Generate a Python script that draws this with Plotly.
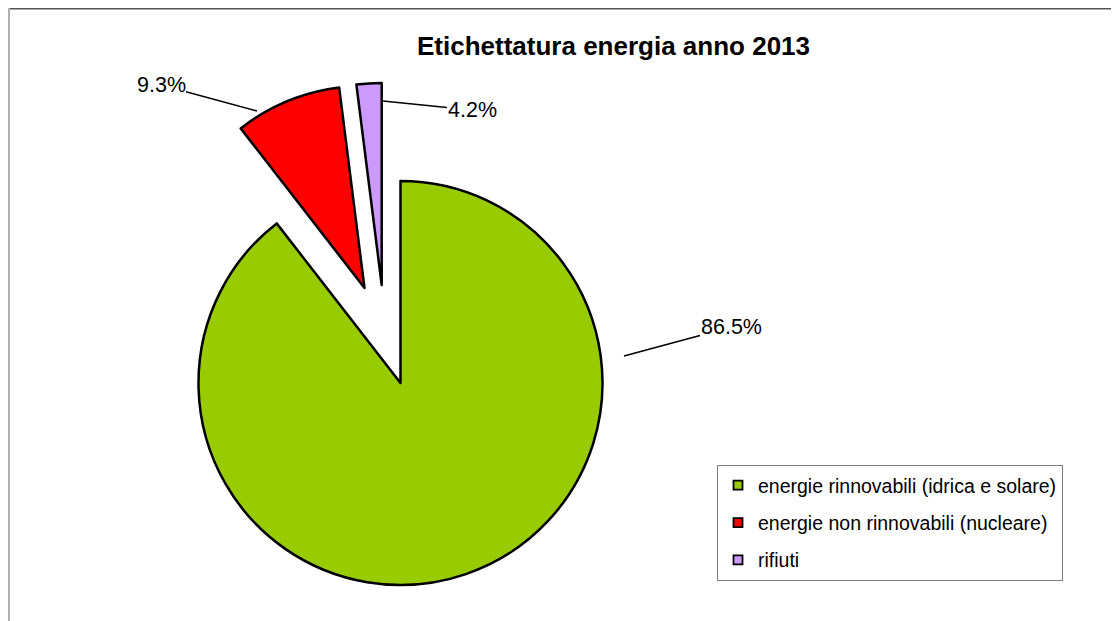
import plotly.graph_objects as go

# ---- data ----
categories = [
    "energie rinnovabili (idrica e solare)",
    "energie non rinnovabili (nucleare)",
    "rifiuti",
]
# slice sizes as drawn
values = [89.5, 8.5, 2.0]
# percentage labels as printed on the chart
pct_labels = ["86.5%", "9.3%", "4.2%"]
colors = ["#99CC00", "#FF0000", "#CC99FF"]

OFF = 8  # page body margin that shifts the figure
W, H = 1119 - OFF, 621 - OFF
R = 202
FONT = "Arial, Liberation Sans, sans-serif"

# pie centre (page px) and the explode offset of each slice (px)
base_center = (400.5, 383.0)
explode = [(0.0, 0.0), (-36.0, -95.0), (-18.8, -98.0)]


def domain_for(cx, cy, r):
    cx -= OFF
    cy -= OFF
    return dict(x=[(cx - r) / W, (cx + r) / W],
                y=[1 - (cy + r) / H, 1 - (cy - r) / H])


def px(x, y):
    return (x - OFF) / W, 1 - (y - OFF) / H


fig = go.Figure()

for i, (dx, dy) in enumerate(explode):
    cols = [c if j == i else "rgba(0,0,0,0)" for j, c in enumerate(colors)]
    lw = [2.5 if j == i else 0 for j in range(len(colors))]
    fig.add_trace(go.Pie(
        labels=categories, values=values, sort=False, direction="clockwise",
        rotation=0, textinfo="none", hoverinfo="skip", showlegend=False,
        marker=dict(colors=cols, line=dict(color="black", width=lw)),
        domain=domain_for(base_center[0] + dx, base_center[1] + dy, R),
    ))

# legend entries
for i, (cat, col) in enumerate(zip(categories, colors)):
    fig.add_trace(go.Scatter(
        x=[None], y=[None], mode="markers", name=cat, legendgroup=str(i),
        marker=dict(symbol="square", size=9, color=col,
                    line=dict(color="black", width=1.8)),
    ))

# data labels with leader lines (tip page px, text offset px)
label_pos = [((624, 356), (107, -29)), ((257, 111), (-96, -26)), ((383, 101), (89, 9))]
annotations = []
for txt, ((tx, ty), (ax, ay)) in zip(pct_labels, label_pos):
    x, y = px(tx, ty)
    annotations.append(dict(
        x=x, y=y, xref="paper", yref="paper", text=txt, showarrow=True,
        arrowhead=0, arrowwidth=1.5, arrowcolor="black", ax=ax, ay=ay,
        font=dict(family=FONT, size=21.5, color="black"), borderpad=0,
    ))

shapes = [
    dict(type="line", xref="paper", yref="paper", x0=0, x1=1,
         y0=1 - 0.75 / H, y1=1 - 0.75 / H, line=dict(color="#555555", width=1.5)),
    dict(type="line", xref="paper", yref="paper", x0=1 / W, x1=1 / W,
         y0=1, y1=0, line=dict(color="#b0b0b0", width=2)),
]

lx, ly = px(717, 465)
tx_, ty_ = px(613.5, 46)
fig.update_layout(
    width=W, height=H, margin=dict(l=0, r=0, t=0, b=0),
    paper_bgcolor="white", plot_bgcolor="white",
    title=dict(text="<b>Etichettatura energia anno 2013</b>", x=tx_,
               xanchor="center", y=ty_, yanchor="middle",
               font=dict(family=FONT, size=26, color="black")),
    xaxis=dict(visible=False), yaxis=dict(visible=False),
    legend=dict(x=lx, y=ly, xanchor="left", yanchor="top",
                bordercolor="#808080", borderwidth=1, bgcolor="white",
                font=dict(family=FONT, size=19.5, color="black"),
                tracegroupgap=9, itemclick=False),
    annotations=annotations, shapes=shapes,
)

fig.write_html("out.html")
